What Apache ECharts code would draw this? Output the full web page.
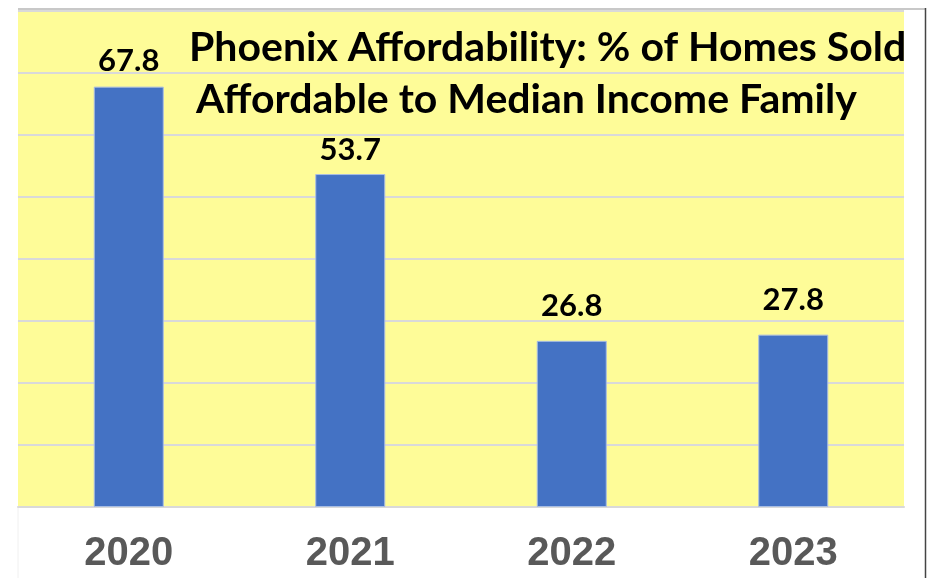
<!DOCTYPE html>
<html>
<head>
    <meta charset="utf-8">
    <title>Phoenix Affordability</title>
    <script src="https://cdn.jsdelivr.net/npm/echarts@6/dist/echarts.min.js"></script>
    <style>
        html, body { margin: 0; padding: 0; background: #fff; }
    </style>
</head>
<body>
<div id="main" style="width: 932px;height:578px;"></div>
<script type="text/javascript">
    // data
    var years = ['2020', '2021', '2022', '2023'];
    var affordablePct = [67.8, 53.7, 26.8, 27.8];
    var titleLines = ['Phoenix Affordability: % of Homes Sold', 'Affordable to Median Income Family'];

    // label gap above each bar (the original is not even)
    var labelGap = [10, 9, 19, 19];

    var myChart = echarts.init(document.getElementById('main'));

    var barData = affordablePct.map(function (v, i) {
        return { value: v, label: { distance: labelGap[i] } };
    });

    var option = {
        backgroundColor: '#ffffff',
        animation: false,
        title: [
            {
                text: titleLines[0],
                left: 184,
                top: 22,
                textStyle: { fontFamily: 'Lato', fontWeight: 'bold', fontSize: 41, color: '#000' }
            },
            {
                text: titleLines[1],
                left: 191,
                top: 74,
                textStyle: { fontFamily: 'Lato', fontWeight: 'bold', fontSize: 41, color: '#000' }
            }
        ],
        grid: {
            left: 18,
            right: 28,
            top: 11,
            bottom: 71,
            show: true,
            backgroundColor: '#fefc98',
            borderWidth: 0
        },
        xAxis: {
            type: 'category',
            data: years,
            axisLine: { lineStyle: { color: '#d9d9d9', width: 2 } },
            axisTick: { show: false },
            axisLabel: {
                margin: 27,
                color: '#595959',
                fontFamily: 'Liberation Sans',
                fontWeight: 'bold',
                fontSize: 40
            }
        },
        yAxis: {
            type: 'value',
            min: 0,
            max: 80,
            interval: 10,
            axisLabel: { show: false },
            axisLine: { show: false },
            axisTick: { show: false },
            splitLine: { lineStyle: { color: '#d9d9d9', width: 2 } }
        },
        graphic: [
            { type: 'line', shape: { x1: 18, y1: 9, x2: 926, y2: 9 }, style: { stroke: '#c8c8c8', lineWidth: 2 } },
            { type: 'line', shape: { x1: 925.5, y1: 8, x2: 925.5, y2: 578 }, style: { stroke: '#444', lineWidth: 1.5 } },
            { type: 'line', shape: { x1: 18, y1: 508, x2: 18, y2: 578 }, style: { stroke: '#f0f0f0', lineWidth: 1 } }
        ],
        series: [
            {
                type: 'bar',
                data: barData,
                barWidth: 70,
                itemStyle: { color: '#4472c4', borderColor: '#a8bde3', borderWidth: 1 },
                label: {
                    show: true,
                    position: 'top',
                    formatter: function (p) { return p.value.toFixed(1); },
                    fontFamily: 'Lato',
                    fontWeight: 'bold',
                    fontSize: 31,
                    color: '#000'
                }
            }
        ]
    };

    myChart.setOption(option);
</script>
</body>
</html>
